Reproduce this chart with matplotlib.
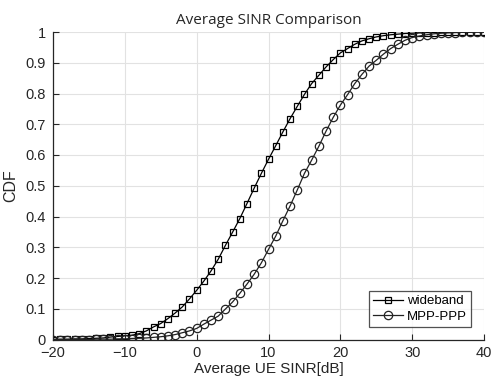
import numpy as np
import matplotlib
matplotlib.use('Agg')
import matplotlib.pyplot as plt

# Average UE SINR sample points (dB)
sinr_db = np.arange(-20, 41)

# CDF values, one per dB
wideband = [
    0.000, 0.001, 0.001, 0.002, 0.002, 0.003, 0.004, 0.005, 0.008, 0.010,
    0.012, 0.014, 0.019, 0.028, 0.041, 0.052, 0.068, 0.086, 0.106, 0.132,
    0.160, 0.190, 0.223, 0.261, 0.306, 0.349, 0.393, 0.442, 0.492, 0.540,
    0.586, 0.630, 0.675, 0.718, 0.758, 0.797, 0.832, 0.859, 0.886, 0.910,
    0.932, 0.946, 0.960, 0.971, 0.978, 0.984, 0.988, 0.991, 0.993, 0.995,
    0.996, 0.997, 0.998, 0.998, 0.999, 0.999, 0.999, 1.000, 1.000, 1.000,
    1.000,
]
mpp_ppp = [
    0.000, 0.000, 0.000, 0.000, 0.000, 0.000, 0.001, 0.001, 0.001, 0.002,
    0.002, 0.003, 0.004, 0.005, 0.007, 0.009, 0.012, 0.016, 0.022, 0.028,
    0.036, 0.050, 0.063, 0.076, 0.099, 0.122, 0.150, 0.180, 0.212, 0.249,
    0.293, 0.336, 0.386, 0.434, 0.486, 0.540, 0.583, 0.628, 0.677, 0.722,
    0.762, 0.796, 0.832, 0.862, 0.889, 0.908, 0.928, 0.946, 0.960, 0.973,
    0.982, 0.987, 0.991, 0.994, 0.996, 0.997, 0.998, 0.999, 0.999, 1.000,
    1.000,
]

plt.rcParams['font.family'] = ['Liberation Sans', 'DejaVu Sans']

fig = plt.figure(figsize=(4.91, 3.78), dpi=100)
ax  = fig.add_axes([53 / 491, 1 - 339.5 / 378, 431 / 491, 307.5 / 378])

ax.plot(sinr_db, wideband, color='black', lw=0.9, marker='s', ms=5,
        mfc='none', mew=0.9, label='wideband')
ax.plot(sinr_db, mpp_ppp, color='#222222', lw=0.9, marker='o', ms=6,
        mfc='none', mew=0.9, label='MPP-PPP')

ax.set_xlim(-20, 40)
ax.set_ylim(0, 1)
ax.set_xticks(np.arange(-20, 41, 10))
ax.set_yticks(np.arange(0, 1.01, 0.1))
ax.set_yticklabels(['0'] + [f'{v:.1f}' for v in np.arange(0.1, 0.95, 0.1)] + ['1'])
ax.grid(True, color='#e2e2e2', lw=0.8)
ax.set_axisbelow(True)

for s in ['top', 'right']:
    ax.spines[s].set_visible(False)
for s in ['left', 'bottom']:
    ax.spines[s].set_color('#262626')
    ax.spines[s].set_linewidth(0.9)

ax.tick_params(direction='in', length=4, labelsize=10.5, colors='#262626',
               labelcolor='#262626')
ax.tick_params(axis='x', pad=5)
ax.tick_params(axis='y', pad=5)

ax.set_title('Average SINR Comparison', fontsize=11, family=['Open Sans', 'DejaVu Sans'],
             color='#262626', pad=6)
ax.set_xlabel('Average UE SINR[dB]', fontsize=11, color='#262626', labelpad=1)
ax.set_ylabel('CDF', fontsize=11.5, color='#262626', labelpad=5)

leg = ax.legend(loc='lower right', bbox_to_anchor=(0.97, 0.041), fontsize=9.5,
                frameon=True, fancybox=False, edgecolor='#262626',
                handlelength=2.3, handletextpad=0.3, borderpad=0.3,
                labelspacing=0.25, borderaxespad=0)
leg.get_frame().set_linewidth(0.9)

fig.savefig('out.png', dpi=100)
